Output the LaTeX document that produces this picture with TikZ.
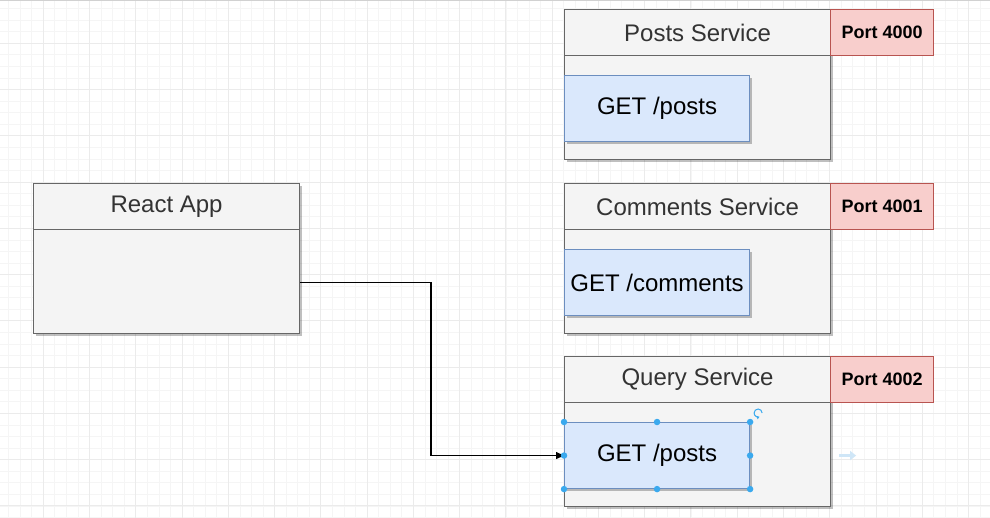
\documentclass[tikz,border=0pt]{standalone}
\usepackage{fontspec}
\setmainfont{Liberation Sans}
\usetikzlibrary{arrows.meta,shadows}

\definecolor{gridminor}{HTML}{F5F5F5}
\definecolor{gridmajor}{HTML}{EBEBEB}
\definecolor{boxfill}{HTML}{F4F4F4}
\definecolor{boxline}{HTML}{666666}
\definecolor{titletext}{HTML}{333333}
\definecolor{epfill}{HTML}{DAE8FC}
\definecolor{epline}{HTML}{6C8EBF}
\definecolor{portfill}{HTML}{F8CECC}
\definecolor{portline}{HTML}{B85450}
\definecolor{handle}{HTML}{3AA9EE}
\definecolor{hintblue}{HTML}{CFE6F7}

\tikzset{
  softshadow/.style={drop shadow={shadow xshift=2.5pt, shadow yshift=-2.5pt, fill=black, opacity=0.25}},
  svcbody/.style={draw=boxline, fill=boxfill, line width=1.1pt, inner sep=0pt,
    anchor=north west, minimum width=266pt, minimum height=150pt, softshadow},
  svchead/.style={draw=boxline, fill=boxfill, line width=1.1pt, inner sep=0pt,
    anchor=north west, minimum width=266pt, minimum height=46pt,
    text=titletext, font=\fontsize{24}{28}\selectfont},
  endpoint/.style={draw=epline, fill=epfill, line width=1.1pt, inner sep=0pt,
    anchor=north west, minimum width=185pt, minimum height=66pt,
    font=\fontsize{24}{28}\selectfont, softshadow},
  portbox/.style={draw=portline, fill=portfill, line width=1.1pt, inner sep=0pt,
    anchor=north west, minimum width=103pt, minimum height=46pt,
    font=\bfseries\fontsize{18}{22}\selectfont},
  conn/.style={draw=black, line width=1.1pt, -{Triangle[length=8pt,width=7pt]}},
  seldot/.style={circle, fill=handle, inner sep=0pt, minimum size=6.5pt},
  hint/.style={draw=hintblue, line width=3pt, -{Triangle[length=6pt,width=9pt]}}
}

\begin{document}
\begin{tikzpicture}[x=1pt,y=-1pt]
  \useasboundingbox (0,0) rectangle (990,518);
  \fill[white] (0,0) rectangle (990,518);

  % background grid
  \foreach \i in {-4,...,86} {
    \pgfmathsetmacro{\gx}{43.3+11.565*\i}
    \draw[gridminor, line width=0.8pt] (\gx,0) -- (\gx,518);
  }
  \foreach \i in {-4,...,44} {
    \pgfmathsetmacro{\gy}{43.3+11.565*\i}
    \draw[gridminor, line width=0.8pt] (0,\gy) -- (990,\gy);
  }
  \foreach \i in {-1,...,21} {
    \pgfmathsetmacro{\gx}{43.3+46.26*\i}
    \draw[gridmajor, line width=0.9pt] (\gx,0) -- (\gx,518);
  }
  \foreach \i in {-1,...,11} {
    \pgfmathsetmacro{\gy}{43.3+46.26*\i}
    \draw[gridmajor, line width=0.9pt] (0,\gy) -- (990,\gy);
  }
  \draw[black!18, line width=1pt] (0,0.5) -- (990,0.5);

  % React App
  \node[svcbody] (reactbody) at (33,183) {};
  \node[svchead] (reacthead) at (33,183) {React App};

  % Posts Service
  \node[svcbody] (postsbody) at (564,9) {};
  \node[svchead] (postshead) at (564,9) {Posts Service};
  \node[portbox] (postsport) at (830,9) {Port 4000};
  \node[endpoint] (postsget) at (564,75) {GET /posts};

  % Comments Service
  \node[svcbody] (commbody) at (564,183) {};
  \node[svchead] (commhead) at (564,183) {Comments Service};
  \node[portbox] (commport) at (830,183) {Port 4001};
  \node[endpoint] (commget) at (564,249) {GET /comments};

  % Query Service
  \node[svcbody] (querybody) at (564,356) {};
  \node[svchead] (queryhead) at (564,356) {Query Service};
  \node[portbox] (queryport) at (830,356) {Port 4002};
  \node[endpoint] (queryget) at (564,422) {GET /posts};

  % request from the React app to the query endpoint
  \path (reacthead.south east) -- (reactbody.south east) coordinate[pos=0.5] (reactout);
  \coordinate (bend) at (431,0);
  \draw[conn] (reactout) -- (bend |- reactout) |- (queryget.west);

  % selection handles on the query endpoint
  \foreach \a in {north west,north,north east,west,east,south west,south,south east}
    \node[seldot] at (queryget.\a) {};
  \draw[handle, line width=1pt, -{Triangle[length=2.6pt,width=3.4pt]}]
    ([shift={(12,-9)}]queryget.north east) arc[start angle=0, end angle=290, radius=4pt];

  % hover hint arrow
  \path (querybody.east |- queryget.east) ++(8,0) coordinate (hintA) ++(17,0) coordinate (hintB);
  \draw[hint] (hintA) -- (hintB);
\end{tikzpicture}
\end{document}
